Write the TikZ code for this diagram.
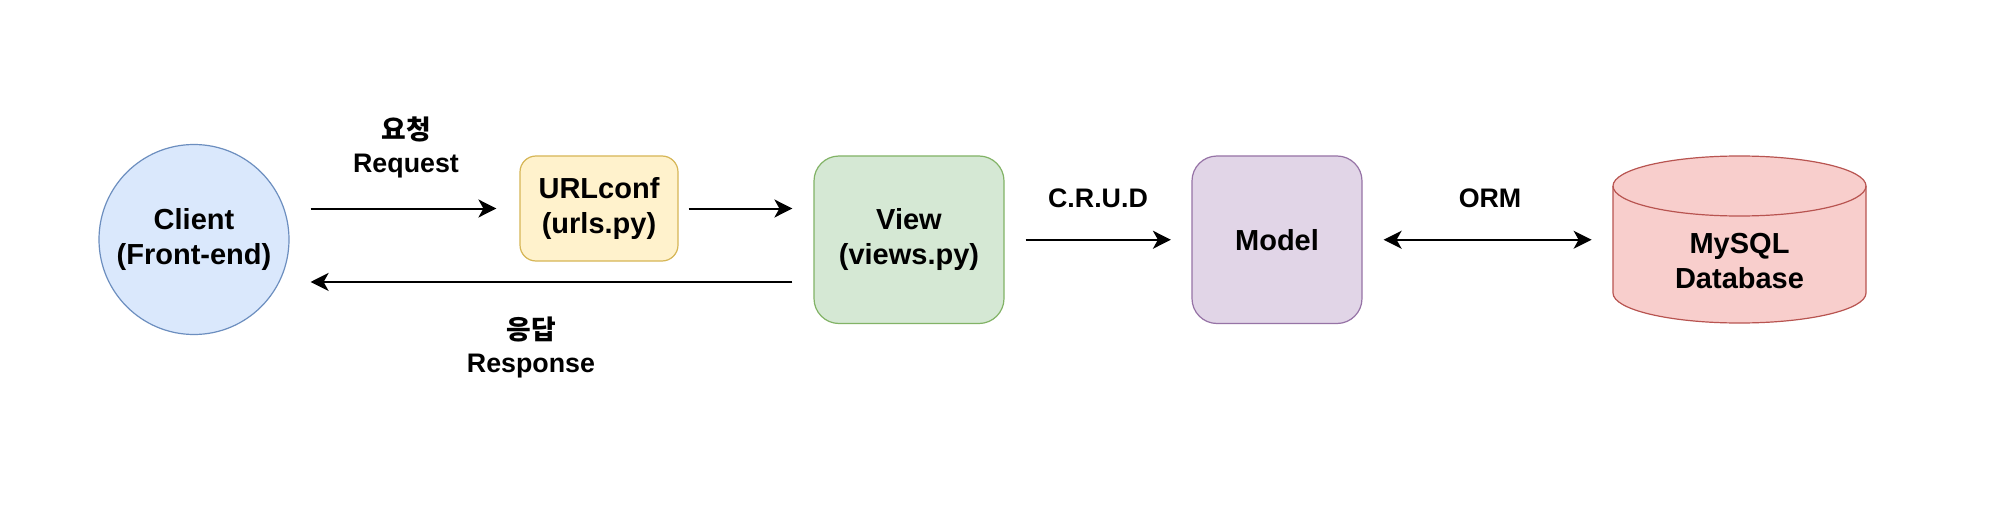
\documentclass[tikz,border=0pt]{standalone}
\usepackage{fontspec}
\setmainfont{Liberation Sans}
\newfontfamily\kr{Noto Sans CJK KR}
\usetikzlibrary{arrows.meta}
\definecolor{blueF}{HTML}{DAE8FC}\definecolor{blueS}{HTML}{6C8EBF}
\definecolor{yelF}{HTML}{FFF2CC}\definecolor{yelS}{HTML}{D6B656}
\definecolor{grnF}{HTML}{D5E8D4}\definecolor{grnS}{HTML}{82B366}
\definecolor{purF}{HTML}{E1D5E7}\definecolor{purS}{HTML}{9673A6}
\definecolor{redF}{HTML}{F8CECC}\definecolor{redS}{HTML}{B85450}
\begin{document}
\begin{tikzpicture}[x=0.5pt,y=-0.5pt,
  nodefont/.style={font=\bfseries\fontsize{14.5pt}{17.5pt}\selectfont},
  box/.style={draw, line width=0.6pt, rounded corners=12.5pt, inner sep=0pt, align=center, nodefont},
  lbl/.style={inner sep=0pt, align=center, font=\bfseries\fontsize{13.4pt}{16.5pt}\selectfont},
  arr/.style={line width=1pt, -{Stealth[length=9pt,width=9pt,inset=2.5pt]}},
  biarr/.style={line width=1pt, {Stealth[length=9pt,width=9pt,inset=2.5pt]}-{Stealth[length=9pt,width=9pt,inset=2.5pt]}},
]
\fill[white] (0,0) rectangle (1992,524);
\useasboundingbox (0,0) rectangle (1992,524);

% nodes
\node[circle, draw=blueS, fill=blueF, line width=0.6pt, minimum size=95pt, inner sep=0pt, align=center, nodefont] (client) at (194,239.5) {Client\\(Front-end)};
\node[box, draw=yelS, fill=yelF, minimum width=79pt, minimum height=52.5pt, rounded corners=8pt] (url) at (599,208.5) {URLconf\\(urls.py)};
\node[box, draw=grnS, fill=grnF, minimum width=95pt, minimum height=83.75pt] (view) at (909,239.75) {View\\(views.py)};
\node[box, draw=purS, fill=purF, minimum width=85pt, minimum height=83.75pt] (model) at (1277,239.75) {Model};

% cylinder
\filldraw[draw=redS, fill=redF, line width=0.6pt]
  (1613,186) -- (1613,293)
  arc[start angle=180, end angle=360, x radius=63.25pt, y radius=15pt]
  -- (1866,186)
  arc[start angle=0, end angle=180, x radius=63.25pt, y radius=15pt] -- cycle;
\draw[draw=redS, line width=0.6pt] (1613,186)
  arc[start angle=180, end angle=360, x radius=63.25pt, y radius=15pt];
\node[inner sep=0pt, minimum width=126.5pt, align=center, nodefont] (db) at (1739.5,261) {MySQL\\Database};

% labels
\node[lbl] (req) at (406,147.5) {{\kr 요청}\\Request};
\node[lbl] (resp) at (531,347) {{\kr 응답}\\Response};
\node[lbl] (crud) at (1098,198.3) {C.R.U.D};
\node[lbl] (orm) at (1490,198) {ORM};

% connectors
\draw[arr, shorten <=10.5pt, shorten >=11.5pt] (client.east |- url.west) -- (url.west);
\draw[arr, shorten <=5pt, shorten >=10.5pt] (url.east) -- (view.west |- url.east);
\path ([yshift=-21.1pt]view.west) coordinate (r1);
\draw[arr, shorten <=10.5pt, shorten >=10.5pt] (r1) -- (client.east |- r1);
\draw[arr, shorten <=10.5pt, shorten >=10.25pt] (view.east) -- (model.west);
\draw[biarr, shorten <=10.5pt, shorten >=10.5pt] (model.east) -- (db.west |- model.east);
\end{tikzpicture}
\end{document}
